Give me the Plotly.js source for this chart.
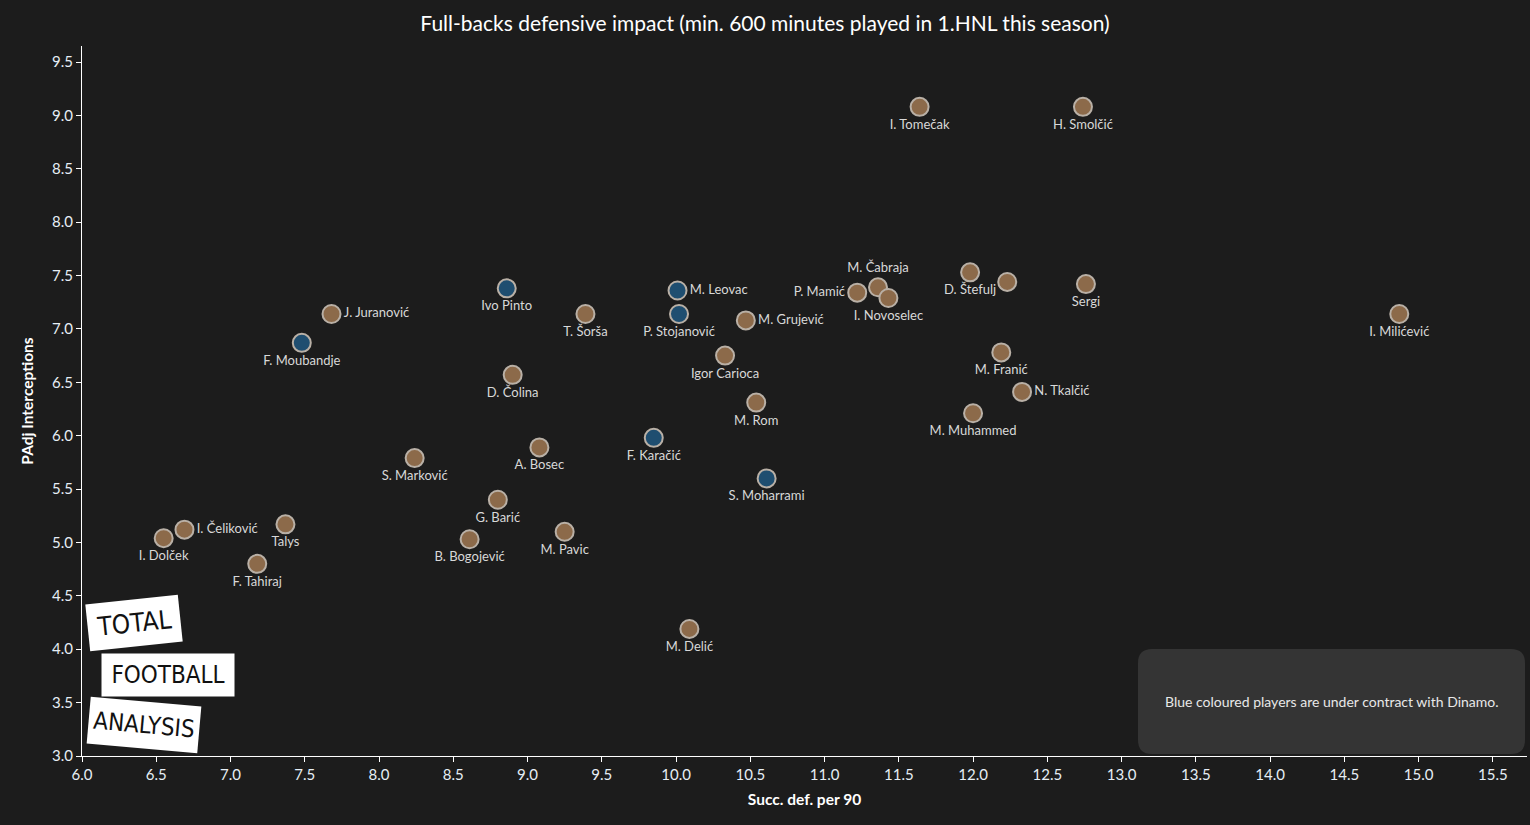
<!DOCTYPE html>
<html>
<head>
<meta charset="utf-8">
<script src="https://cdn.plot.ly/plotly-3.0.1.min.js"></script>
<style>
html,body{margin:0;padding:0;background:#1c1c1c;}
#chart{width:1530px;height:825px;}
</style>
</head>
<body>
<div id="chart"></div>
<script>
// Player data
const players = ["I. Tomečak","H. Smolčić","P. Mamić","M. Čabraja","I. Novoselec","D. Štefulj","","Sergi","I. Milićević","M. Franić","N. Tkalčić","M. Muhammed","M. Rom","M. Grujević","Igor Carioca","M. Leovac","P. Stojanović","Ivo Pinto","T. Šorša","D. Čolina","J. Juranović","F. Moubandje","S. Marković","A. Bosec","F. Karačić","S. Moharrami","G. Barić","B. Bogojević","M. Pavic","M. Delić","I. Dolček","I. Čeliković","Talys","F. Tahiraj"];
const succDef = [11.64,12.74,11.22,11.36,11.43,11.98,12.23,12.76,14.87,12.19,12.33,12.00,10.54,10.47,10.33,10.01,10.02,8.86,9.39,8.90,7.68,7.48,8.24,9.08,9.85,10.61,8.80,8.61,9.25,10.09,6.55,6.69,7.37,7.18];
const padjInt = [9.08,9.08,7.34,7.39,7.29,7.53,7.44,7.42,7.14,6.78,6.41,6.21,6.31,7.08,6.75,7.36,7.14,7.38,7.14,6.57,7.14,6.87,5.79,5.89,5.98,5.60,5.40,5.03,5.10,4.19,5.04,5.12,5.17,4.80];
const dinamo = [0,0,0,0,0,0,0,0,0,0,0,0,0,0,0,1,1,1,0,0,0,1,0,0,1,1,0,0,0,0,0,0,0,0];
const labelPos = ["bottom center","bottom center","middle left","top center","bottom center","bottom center","bottom center","bottom center","bottom center","bottom center","middle right","bottom center","bottom center","middle right","bottom center","middle right","bottom center","bottom center","bottom center","bottom center","middle right","bottom center","bottom center","bottom center","bottom center","bottom center","bottom center","bottom center","bottom center","bottom center","bottom center","middle right","bottom center","bottom center"];

const xTicks = [6.0,6.5,7.0,7.5,8.0,8.5,9.0,9.5,10.0,10.5,11.0,11.5,12.0,12.5,13.0,13.5,14.0,14.5,15.0,15.5];
const yTicks = [3.0,3.5,4.0,4.5,5.0,5.5,6.0,6.5,7.0,7.5,8.0,8.5,9.0,9.5];

const BROWN = '#8c6a4a', BLUE = '#1f4e70';
const font = 'Lato, "Noto Sans", sans-serif';
const logoFont = '"DejaVu Sans Condensed", "Liberation Sans Narrow", "Roboto Condensed", "DejaVu Sans", sans-serif';

const trace = {
  type: 'scatter', mode: 'markers+text',
  x: succDef, y: padjInt, text: players,
  textposition: labelPos,
  textfont: {family: font, size: 13, color: '#d8d8d8'},
  marker: {size: 18, color: dinamo.map(d => d ? BLUE : BROWN), opacity: 1,
           line: {color: '#b9b0a6', width: 2}},
  hoverinfo: 'x+y+text', cliponaxis: false
};

const fmt = v => v.toFixed(1);

// rounded rectangle for the note box (paper coords)
function roundRect(x0,y0,x1,y1,rx,ry){
  return `M ${x0+rx},${y0} L ${x1-rx},${y0} Q ${x1},${y0} ${x1},${y0+ry} L ${x1},${y1-ry} Q ${x1},${y1} ${x1-rx},${y1} L ${x0+rx},${y1} Q ${x0},${y1} ${x0},${y1-ry} L ${x0},${y0+ry} Q ${x0},${y0} ${x0+rx},${y0} Z`;
}
const plotW = 1530-82-3, plotH = 825-46-69;
const px = v => (v-82)/plotW, py = v => (756-v)/plotH;
const bx0 = px(1138), bx1 = px(1525);
const by0 = py(754), by1 = py(649);
const rx = 14/plotW, ry = 14/plotH;

const logo = (txt, cx, cy, w, h, ang, size) => ({
  xref: 'paper', yref: 'paper', x: px(cx), y: py(cy), xanchor: 'center', yanchor: 'middle',
  showarrow: false, text: txt, textangle: ang, bgcolor: '#ffffff', width: w, height: h, align: 'center',
  font: {family: logoFont, size: size, color: '#111111'}
});

const layout = {
  width: 1530, height: 825,
  paper_bgcolor: '#1c1c1c', plot_bgcolor: '#1c1c1c',
  margin: {l: 82, r: 3, t: 46, b: 69},
  showlegend: false,
  title: {text: 'Full-backs defensive impact (min. 600 minutes played in 1.HNL this season)',
          font: {family: font, size: 21, color: '#ffffff'}, x: 0.5, xanchor: 'center', y: 0.971, yanchor: 'middle'},
  xaxis: {range: [6.0, 15.73], tickvals: xTicks, ticktext: xTicks.map(fmt),
          showgrid: false, zeroline: false, showline: true, linecolor: '#ffffff', linewidth: 1,
          ticks: 'outside', ticklen: 5, tickcolor: '#ffffff',
          tickfont: {family: font, size: 15, color: '#e6eef5'},
          title: {text: '<b>Succ. def. per 90</b>', font: {family: font, size: 15.5, color: '#ffffff'}, standoff: 12}},
  yaxis: {range: [3.0, 9.65], tickvals: yTicks, ticktext: yTicks.map(fmt),
          showgrid: false, zeroline: false, showline: true, linecolor: '#ffffff', linewidth: 1,
          ticks: 'outside', ticklen: 5, tickcolor: '#ffffff',
          tickfont: {family: font, size: 15, color: '#e6eef5'},
          title: {text: '<b>PAdj Interceptions</b>', font: {family: font, size: 15.5, color: '#ffffff'}, standoff: 14}},
  shapes: [{type: 'path', xref: 'paper', yref: 'paper', path: roundRect(bx0,by0,bx1,by1,rx,ry),
            fillcolor: '#343434', line: {width: 0}, layer: 'above'}],
  annotations: [
    {xref: 'paper', yref: 'paper', x: (bx0+bx1)/2, y: (by0+by1)/2, xanchor: 'center', yanchor: 'middle', showarrow: false,
     text: 'Blue coloured players are under contract with Dinamo.',
     font: {family: font, size: 14, color: '#e8e8e8'}},
    logo('TOTAL', 134, 623, 90, 44, -6, 26),
    logo('FOOTBALL', 168, 675, 130, 40, 0, 24),
    logo('ANALYSIS', 144, 725, 108, 44, 5, 24)
  ]
};

Plotly.newPlot('chart', [trace], layout, {displayModeBar: false, staticPlot: true});
</script>
</body>
</html>
